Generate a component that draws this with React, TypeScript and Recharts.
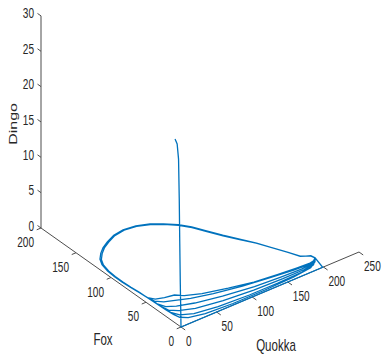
import { ComposedChart, Line, Scatter, XAxis, YAxis, ReferenceLine } from 'recharts';

type P2 = [number, number];
type P3 = [number, number, number];

// tick values of the three axes
const quokkaTicks = [0, 50, 100, 150, 200, 250];
const foxTicks = [0, 50, 100, 150, 200];
const dingoTicks = [0, 5, 10, 15, 20, 25, 30];

// [quokka, fox, dingo] - dingo dies off first
const dingoDecay: P3[] = [
    [0, 8.5, 26], [0, 5.5, 25.5], [0, 3.5, 23.5], [0, 2.5, 18],
    [0, 1.8, 12], [0, 1, 6], [0, 0.3, 2], [0, 0, 0],
];

// [quokka, fox] with dingo = 0 from here on
const quokkaRise: P2[] = [[0, 0], [199, 0]];

const arcOuter: P2[] = [
    [204, 16], [203, 21], [198, 23], [193, 26], [188, 36], [180, 50], [171, 66], [161, 80],
    [151, 94], [142, 108], [134, 121], [125, 131], [113, 140], [101, 147], [86, 152],
    [70, 154], [55, 152], [41, 147], [30, 142], [21, 136], [13, 129], [8, 121], [5, 110],
    [4, 99], [4, 88], [5, 77], [6, 66],
];
const arcInner: P2[] = [
    [204, 16], [202.5, 21], [197.5, 23.5], [192.5, 26.5], [187.5, 36.5], [179.5, 50.5], [170.5, 66], [160.5, 79.5],
    [150.5, 93], [141.5, 107], [133.5, 120], [124.5, 130], [112.5, 139], [100.5, 146], [86, 151],
    [70.5, 153], [55.5, 151], [42, 146], [31, 141], [22, 135], [14, 128], [9, 120], [6, 109.5],
    [5, 99], [5, 88], [5.5, 77], [6.5, 66],
];

const trough1: P2[] = [[7, 55], [12, 49], [22, 46], [34, 44], [42, 38], [60, 31], [90, 24], [120, 18], [150, 15], [175, 13], [192, 12], [199, 13]];
const trough2: P2[] = [[7, 55], [9, 47], [16, 41], [28, 37], [44, 31], [70, 25], [105, 19], [140, 15], [170, 12], [190, 11], [199, 12]];
const trough3: P2[] = [[7, 55], [8, 42], [12, 34], [22, 29], [42, 23], [75, 17], [115, 12], [150, 10], [178, 9], [194, 10], [200, 12]];
const trough4: P2[] = [[7, 55], [8, 37], [10, 28], [18, 22], [36, 16], [70, 11], [110, 8], [150, 7], [180, 7], [195, 9], [200, 12]];
const trough5: P2[] = [[7, 55], [8, 33], [9, 24], [14, 16], [28, 10], [58, 6], [100, 4], [140, 4], [175, 5], [194, 8], [199, 12]];
const trough6: P2[] = [[7, 55], [8, 30], [9, 20], [11, 13], [18, 8], [38, 4], [75, 2], [120, 2], [160, 3], [188, 6], [199, 11]];

// oblique view of (quokka, fox, dingo)
const project = (q: number, f: number, d: number) => ({
    x: 0.712 * q - 0.70 * f,
    y: 0.30 * q + 0.495 * f + 7.07 * d,
});

const flat = (pts: P2[]) => pts.map(([q, f]) => project(q, f, 0));

const trajectory = [
    ...dingoDecay.map(([q, f, d]) => project(q, f, d)),
    ...flat(quokkaRise),
    ...flat(arcOuter), ...flat(trough1),
    ...flat(arcInner), ...flat(trough2),
    ...flat(arcOuter), ...flat(trough3),
    ...flat(arcInner), ...flat(trough4),
    ...flat(arcOuter), ...flat(trough5),
    ...flat(arcInner), ...flat(trough6),
    ...flat(arcOuter),
];

const AXIS = '#4d4d4d';
const TEXT = '#262626';
const FONT = '"Liberation Sans", Arial, sans-serif';

const labels = [
    ...quokkaTicks.map((v) => ({ ...project(v, 0, 0), text: String(v), kind: 'q' })),
    ...foxTicks.map((v) => ({ ...project(0, v, 0), text: String(v), kind: 'f' })),
    ...dingoTicks.map((v) => ({ ...project(0, 200, v), text: String(v), kind: 'd' })),
    { ...project(125, 0, 0), text: 'Quokka', kind: 'tq' },
    { ...project(0, 100, 0), text: 'Fox', kind: 'tf' },
    { ...project(0, 200, 15), text: 'Dingo', kind: 'td' },
];

const LabelShape = (props: any) => {
    const { cx, cy, payload } = props;
    const k = payload.kind;
    let tx = cx, ty = cy, anchor = 'middle', size = 14, rot = '';
    if (k === 'q') { tx = cx + 5; ty = cy + 14; anchor = 'start'; }
    if (k === 'f') { tx = cx - 7; ty = cy + 14.5; anchor = 'end'; }
    if (k === 'd') { tx = cx - 7; ty = cy - 2; anchor = 'end'; }
    if (k === 'tq') { tx = cx + 6; ty = cy + 56; size = 16; }
    if (k === 'tf') { tx = cx - 8; ty = cy + 62; size = 16; }
    if (k === 'td') { tx = cx - 28; ty = cy + 2; size = 16; rot = ' rotate(-90)'; }
    return (
        <text
            transform={`translate(${tx},${ty}) scale(0.72,1)${rot}`}
            textAnchor={anchor}
            dominantBaseline="central"
            fontSize={size}
            fontFamily={FONT}
            fill={TEXT}
        >
            {payload.text}
        </text>
    );
};

const seg = (a: { x: number; y: number }, b: { x: number; y: number }) => [
    { x: a.x, y: a.y },
    { x: b.x, y: b.y },
];

export default function App() {
    const qStart = project(0, 0, 0);
    const qEnd = project(250, 0, 0);
    const fEnd = project(0, 200, 0);
    const dEnd = project(0, 200, 30);
    return (
        <div style={{ position: 'absolute', left: 0, top: 0, background: '#fff' }}>
            <ComposedChart width={382} height={359} margin={{ top: 0, right: 0, bottom: 0, left: 0 }}>
                <XAxis dataKey="x" type="number" domain={[-181, 201]} allowDataOverflow hide />
                <YAxis dataKey="y" type="number" domain={[-32, 327]} allowDataOverflow hide />

                <ReferenceLine segment={seg(qStart, qEnd)} stroke={AXIS} ifOverflow="visible" />
                <ReferenceLine segment={seg(qStart, fEnd)} stroke={AXIS} ifOverflow="visible" />
                <ReferenceLine segment={seg(fEnd, dEnd)} stroke={AXIS} ifOverflow="visible" />
                {quokkaTicks.map((v) => (
                    <ReferenceLine key={'q' + v} segment={seg(project(v, 0, 0), project(v, -6, 0))} stroke={AXIS} ifOverflow="visible" />
                ))}
                {foxTicks.map((v) => (
                    <ReferenceLine key={'f' + v} segment={seg(project(0, v, 0), project(-6, v, 0))} stroke={AXIS} ifOverflow="visible" />
                ))}
                {dingoTicks.map((v) => (
                    <ReferenceLine key={'d' + v} segment={seg(project(0, 200, v), project(0, 205, v))} stroke={AXIS} ifOverflow="visible" />
                ))}

                <Line
                    data={trajectory}
                    dataKey="y"
                    type="linear"
                    stroke="#0072BD"
                    strokeWidth={1.3}
                    dot={false}
                    isAnimationActive={false}
                />
                <Scatter data={labels} shape={LabelShape} isAnimationActive={false} />
            </ComposedChart>
        </div>
    );
}
